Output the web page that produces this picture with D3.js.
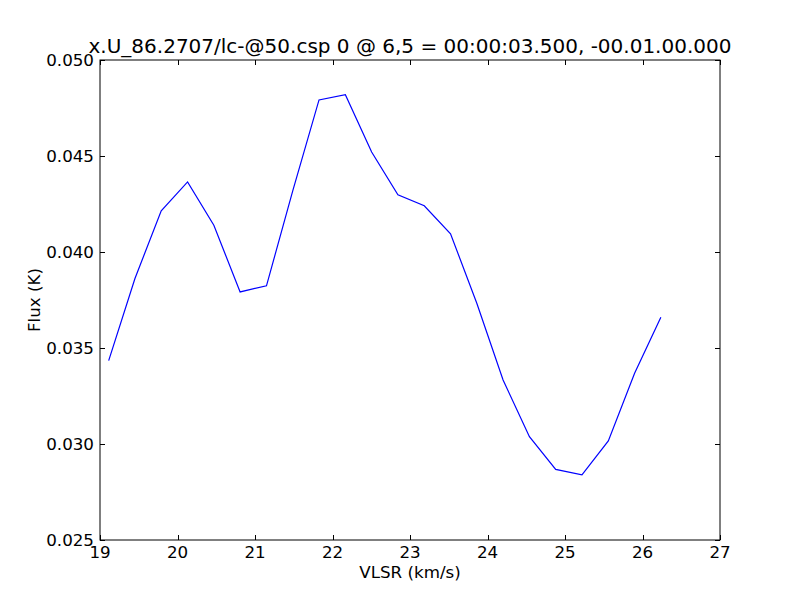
<!DOCTYPE html>
<html>
<head>
<meta charset="utf-8">
<script src="https://cdn.jsdelivr.net/npm/d3@7"></script>
<style>
    body { margin: 0; background: #fff; }
    text { font-family: "DejaVu Sans", sans-serif; fill: #000; }
    .tick-label { font-size: 16.7px; }
</style>
</head>
<body>
<div id="chart"></div>
<script>
// spectrum
var vlsr = [19.112, 19.451, 19.790, 20.130, 20.469, 20.808, 21.148, 21.487, 21.826, 22.166, 22.505,
            22.844, 23.184, 23.523, 23.862, 24.201, 24.541, 24.880, 25.219, 25.559, 25.898, 26.237];
var flux = [0.03434, 0.03862, 0.04215, 0.04365, 0.04139, 0.03792, 0.03824, 0.04318, 0.04792, 0.04819, 0.04521,
            0.04298, 0.04241, 0.04095, 0.03733, 0.03333, 0.03038, 0.02868, 0.02839, 0.03016, 0.03368, 0.03660];
var xTicks = [19, 20, 21, 22, 23, 24, 25, 26, 27];
var yTicks = [0.025, 0.030, 0.035, 0.040, 0.045, 0.050];
var titleText = "x.U_86.2707/lc-@50.csp 0 @ 6,5 = 00:00:03.500, -00.01.00.000";

var width = 800, height = 600;
var m = {left: 100, right: 720, top: 60, bottom: 540};

var svg = d3.select("#chart").append("svg")
    .attr("width", width)
    .attr("height", height);

var x = d3.scaleLinear().domain([19, 27]).range([m.left, m.right]);
var y = d3.scaleLinear().domain([0.025, 0.050]).range([m.bottom, m.top]);

// data line
var line = d3.line()
    .x(function(d, i) { return x(vlsr[i]); })
    .y(function(d) { return y(d); });

svg.append("path")
    .datum(flux)
    .attr("fill", "none")
    .attr("stroke", "#0000ff")
    .attr("stroke-width", 1.2)
    .attr("d", line);

// ticks pointing inward on all four sides
var tl = 5;
xTicks.forEach(function(t) {
    var px = Math.round(x(t)) + 0.5;
    svg.append("line").attr("x1", px).attr("x2", px).attr("y1", m.bottom).attr("y2", m.bottom - tl).attr("stroke", "#000");
    svg.append("line").attr("x1", px).attr("x2", px).attr("y1", m.top).attr("y2", m.top + tl).attr("stroke", "#000");
    svg.append("text").attr("class", "tick-label")
        .attr("x", x(t)).attr("y", m.bottom + 18)
        .attr("text-anchor", "middle")
        .text(d3.format("d")(t));
});
yTicks.forEach(function(t) {
    var py = Math.round(y(t)) + 0.5;
    svg.append("line").attr("x1", m.left).attr("x2", m.left + tl).attr("y1", py).attr("y2", py).attr("stroke", "#000");
    svg.append("line").attr("x1", m.right).attr("x2", m.right - tl).attr("y1", py).attr("y2", py).attr("stroke", "#000");
    svg.append("text").attr("class", "tick-label")
        .attr("x", m.left - 6).attr("y", y(t) + 6)
        .attr("text-anchor", "end")
        .text(d3.format(".3f")(t));
});

// frame
svg.append("rect")
    .attr("x", m.left).attr("y", m.top)
    .attr("width", m.right - m.left).attr("height", m.bottom - m.top)
    .attr("fill", "none").attr("stroke", "#000").attr("stroke-width", 1);

// labels
svg.append("text")
    .attr("x", (m.left + m.right) / 2).attr("y", 53)
    .attr("text-anchor", "middle")
    .attr("font-size", "20px")
    .text(titleText);

svg.append("text")
    .attr("x", (m.left + m.right) / 2).attr("y", 578)
    .attr("text-anchor", "middle")
    .attr("font-size", "16.7px")
    .text("VLSR (km/s)");

svg.append("text")
    .attr("transform", "translate(40," + ((m.top + m.bottom) / 2) + ") rotate(-90)")
    .attr("text-anchor", "middle")
    .attr("font-size", "16.7px")
    .text("Flux (K)");
</script>
</body>
</html>
